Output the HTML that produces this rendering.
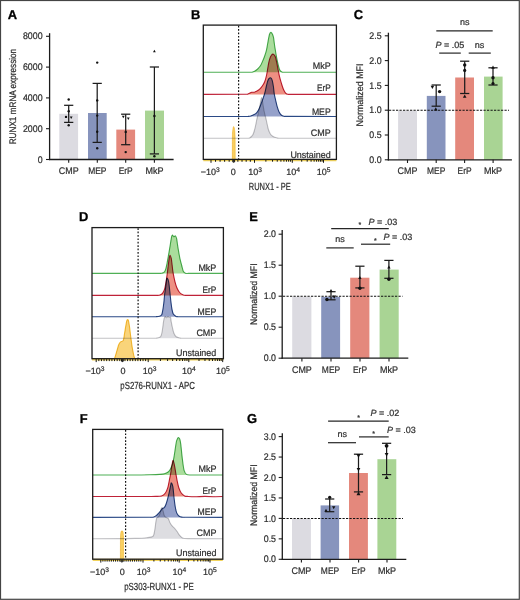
<!DOCTYPE html><html><head><meta charset="utf-8"><style>html,body{margin:0;padding:0;background:#fff}svg{display:block}text{font-family:"Liberation Sans", sans-serif;text-rendering:geometricPrecision;stroke:#2e2e2e;stroke-width:0.22px}text.b{stroke:#000;stroke-width:0.3px}</style></head><body>
<svg width="520" height="600" viewBox="0 0 520 600">
<rect x="0" y="0" width="520" height="600" fill="#fff"/>
<text class="b" x="7.7" y="18.8" font-size="12.9" text-anchor="start" fill="#000" font-weight="bold">A</text>
<rect x="59.3" y="113.8" width="18.8" height="45.7" fill="#dcdbe1"/>
<rect x="88" y="113" width="18.7" height="46.5" fill="#8794bd"/>
<rect x="116.3" y="129.6" width="18.8" height="29.9" fill="#e4887c"/>
<rect x="145" y="110.6" width="19" height="48.9" fill="#a9d494"/>
<line x1="49.6" y1="33.2" x2="49.6" y2="160.1" stroke="#1c1c1c" stroke-width="1.3"/>
<line x1="49" y1="159.5" x2="173.6" y2="159.5" stroke="#1c1c1c" stroke-width="1.3"/>
<line x1="46" y1="159.5" x2="49.6" y2="159.5" stroke="#1c1c1c" stroke-width="1.1"/>
<text x="42.6" y="162.65" font-size="9.6" text-anchor="end" fill="#2e2e2e" font-weight="normal" textLength="4.91" lengthAdjust="spacingAndGlyphs">0</text>
<line x1="46" y1="128.7" x2="49.6" y2="128.7" stroke="#1c1c1c" stroke-width="1.1"/>
<text x="42.6" y="131.85" font-size="9.6" text-anchor="end" fill="#2e2e2e" font-weight="normal" textLength="19.65" lengthAdjust="spacingAndGlyphs">2000</text>
<line x1="46" y1="97.9" x2="49.6" y2="97.9" stroke="#1c1c1c" stroke-width="1.1"/>
<text x="42.6" y="101.05" font-size="9.6" text-anchor="end" fill="#2e2e2e" font-weight="normal" textLength="19.65" lengthAdjust="spacingAndGlyphs">4000</text>
<line x1="46" y1="67.1" x2="49.6" y2="67.1" stroke="#1c1c1c" stroke-width="1.1"/>
<text x="42.6" y="70.25" font-size="9.6" text-anchor="end" fill="#2e2e2e" font-weight="normal" textLength="19.65" lengthAdjust="spacingAndGlyphs">6000</text>
<line x1="46" y1="36.3" x2="49.6" y2="36.3" stroke="#1c1c1c" stroke-width="1.1"/>
<text x="42.6" y="39.45" font-size="9.6" text-anchor="end" fill="#2e2e2e" font-weight="normal" textLength="19.65" lengthAdjust="spacingAndGlyphs">8000</text>
<line x1="68.7" y1="159.5" x2="68.7" y2="162.7" stroke="#1c1c1c" stroke-width="1.1"/>
<line x1="97.3" y1="159.5" x2="97.3" y2="162.7" stroke="#1c1c1c" stroke-width="1.1"/>
<line x1="125.7" y1="159.5" x2="125.7" y2="162.7" stroke="#1c1c1c" stroke-width="1.1"/>
<line x1="154.4" y1="159.5" x2="154.4" y2="162.7" stroke="#1c1c1c" stroke-width="1.1"/>
<text x="68.7" y="174.2" font-size="9.6" text-anchor="middle" fill="#2e2e2e" font-weight="normal" textLength="19.8" lengthAdjust="spacingAndGlyphs">CMP</text>
<text x="97.3" y="174.2" font-size="9.6" text-anchor="middle" fill="#2e2e2e" font-weight="normal" textLength="18.3" lengthAdjust="spacingAndGlyphs">MEP</text>
<text x="125.7" y="174.2" font-size="9.6" text-anchor="middle" fill="#2e2e2e" font-weight="normal" textLength="14" lengthAdjust="spacingAndGlyphs">ErP</text>
<text x="154.4" y="174.2" font-size="9.6" text-anchor="middle" fill="#2e2e2e" font-weight="normal" textLength="18" lengthAdjust="spacingAndGlyphs">MkP</text>
<text transform="translate(16.2,96.6) rotate(-90)" x="0" y="0" font-size="9.6" text-anchor="middle" fill="#2e2e2e" textLength="95.5" lengthAdjust="spacingAndGlyphs">RUNX1 mRNA expression</text>
<line x1="68.7" y1="105.3" x2="68.7" y2="122.4" stroke="#1c1c1c" stroke-width="1.25"/>
<line x1="64.1" y1="105.3" x2="73.3" y2="105.3" stroke="#1c1c1c" stroke-width="1.25"/>
<line x1="64.1" y1="122.4" x2="73.3" y2="122.4" stroke="#1c1c1c" stroke-width="1.25"/>
<line x1="97.2" y1="83.4" x2="97.2" y2="142.4" stroke="#1c1c1c" stroke-width="1.25"/>
<line x1="92.6" y1="83.4" x2="101.8" y2="83.4" stroke="#1c1c1c" stroke-width="1.25"/>
<line x1="92.6" y1="142.4" x2="101.8" y2="142.4" stroke="#1c1c1c" stroke-width="1.25"/>
<line x1="125.7" y1="114.2" x2="125.7" y2="144.7" stroke="#1c1c1c" stroke-width="1.25"/>
<line x1="121.1" y1="114.2" x2="130.3" y2="114.2" stroke="#1c1c1c" stroke-width="1.25"/>
<line x1="121.1" y1="144.7" x2="130.3" y2="144.7" stroke="#1c1c1c" stroke-width="1.25"/>
<line x1="154.4" y1="67" x2="154.4" y2="153.9" stroke="#1c1c1c" stroke-width="1.25"/>
<line x1="149.8" y1="67" x2="159" y2="67" stroke="#1c1c1c" stroke-width="1.25"/>
<line x1="149.8" y1="153.9" x2="159" y2="153.9" stroke="#1c1c1c" stroke-width="1.25"/>
<circle cx="68.7" cy="99.5" r="1.2" fill="#111"/>
<circle cx="66" cy="116.9" r="1.2" fill="#111"/>
<circle cx="68.7" cy="125.3" r="1.2" fill="#111"/>
<circle cx="68.7" cy="111.3" r="1.2" fill="#111"/>
<polygon points="71.2,119 69.8,116.48 72.6,116.48" fill="#111"/>
<circle cx="97.2" cy="62.6" r="1.2" fill="#111"/>
<circle cx="97.2" cy="100.4" r="1.2" fill="#111"/>
<circle cx="97.2" cy="115.6" r="1.2" fill="#111"/>
<circle cx="97.2" cy="131.8" r="1.2" fill="#111"/>
<circle cx="97.2" cy="148.3" r="1.2" fill="#111"/>
<polygon points="123.3,118.3 121.9,115.78 124.7,115.78" fill="#111"/>
<polygon points="128.3,120 126.9,117.48 129.7,117.48" fill="#111"/>
<circle cx="125.7" cy="131.9" r="1.2" fill="#111"/>
<circle cx="125.7" cy="152.1" r="1.2" fill="#111"/>
<polygon points="154.4,49.8 153,52.32 155.8,52.32" fill="#111"/>
<circle cx="154.4" cy="116" r="1.2" fill="#111"/>
<circle cx="154.4" cy="156.3" r="1.2" fill="#111"/>
<text class="b" x="353.7" y="18.5" font-size="12.9" text-anchor="start" fill="#000" font-weight="bold">C</text>
<rect x="398.1" y="110.6" width="18.9" height="49.2" fill="#dcdbe1"/>
<rect x="426.8" y="95.9" width="18.7" height="63.9" fill="#8794bd"/>
<rect x="455.2" y="77.5" width="18.8" height="82.3" fill="#e4887c"/>
<rect x="484" y="76.6" width="18.6" height="83.2" fill="#a9d494"/>
<line x1="388.4" y1="32.7" x2="388.4" y2="160.4" stroke="#1c1c1c" stroke-width="1.3"/>
<line x1="387.8" y1="159.8" x2="511.9" y2="159.8" stroke="#1c1c1c" stroke-width="1.3"/>
<line x1="384.8" y1="159.8" x2="388.4" y2="159.8" stroke="#1c1c1c" stroke-width="1.1"/>
<text x="381.6" y="162.95" font-size="9.6" text-anchor="end" fill="#2e2e2e" font-weight="normal" textLength="12.28" lengthAdjust="spacingAndGlyphs">0.0</text>
<line x1="384.8" y1="135" x2="388.4" y2="135" stroke="#1c1c1c" stroke-width="1.1"/>
<text x="381.6" y="138.15" font-size="9.6" text-anchor="end" fill="#2e2e2e" font-weight="normal" textLength="12.28" lengthAdjust="spacingAndGlyphs">0.5</text>
<line x1="384.8" y1="110.2" x2="388.4" y2="110.2" stroke="#1c1c1c" stroke-width="1.1"/>
<text x="381.6" y="113.35" font-size="9.6" text-anchor="end" fill="#2e2e2e" font-weight="normal" textLength="12.28" lengthAdjust="spacingAndGlyphs">1.0</text>
<line x1="384.8" y1="85.4" x2="388.4" y2="85.4" stroke="#1c1c1c" stroke-width="1.1"/>
<text x="381.6" y="88.55" font-size="9.6" text-anchor="end" fill="#2e2e2e" font-weight="normal" textLength="12.28" lengthAdjust="spacingAndGlyphs">1.5</text>
<line x1="384.8" y1="60.6" x2="388.4" y2="60.6" stroke="#1c1c1c" stroke-width="1.1"/>
<text x="381.6" y="63.75" font-size="9.6" text-anchor="end" fill="#2e2e2e" font-weight="normal" textLength="12.28" lengthAdjust="spacingAndGlyphs">2.0</text>
<line x1="384.8" y1="35.8" x2="388.4" y2="35.8" stroke="#1c1c1c" stroke-width="1.1"/>
<text x="381.6" y="38.95" font-size="9.6" text-anchor="end" fill="#2e2e2e" font-weight="normal" textLength="12.28" lengthAdjust="spacingAndGlyphs">2.5</text>
<line x1="407.5" y1="159.8" x2="407.5" y2="163" stroke="#1c1c1c" stroke-width="1.1"/>
<line x1="436.2" y1="159.8" x2="436.2" y2="163" stroke="#1c1c1c" stroke-width="1.1"/>
<line x1="464.6" y1="159.8" x2="464.6" y2="163" stroke="#1c1c1c" stroke-width="1.1"/>
<line x1="493.1" y1="159.8" x2="493.1" y2="163" stroke="#1c1c1c" stroke-width="1.1"/>
<text x="407.5" y="174" font-size="9.6" text-anchor="middle" fill="#2e2e2e" font-weight="normal" textLength="19.8" lengthAdjust="spacingAndGlyphs">CMP</text>
<text x="436.2" y="174" font-size="9.6" text-anchor="middle" fill="#2e2e2e" font-weight="normal" textLength="18.3" lengthAdjust="spacingAndGlyphs">MEP</text>
<text x="464.6" y="174" font-size="9.6" text-anchor="middle" fill="#2e2e2e" font-weight="normal" textLength="14" lengthAdjust="spacingAndGlyphs">ErP</text>
<text x="493.1" y="174" font-size="9.6" text-anchor="middle" fill="#2e2e2e" font-weight="normal" textLength="18" lengthAdjust="spacingAndGlyphs">MkP</text>
<text transform="translate(363,95) rotate(-90)" x="0" y="0" font-size="9.6" text-anchor="middle" fill="#2e2e2e" textLength="63" lengthAdjust="spacingAndGlyphs">Normalized MFI</text>
<line x1="389" y1="110.2" x2="509" y2="110.2" stroke="#111" stroke-width="1.05" stroke-dasharray="2.2 1.3"/>
<line x1="436.2" y1="85" x2="436.2" y2="106.2" stroke="#1c1c1c" stroke-width="1.25"/>
<line x1="431.6" y1="85" x2="440.8" y2="85" stroke="#1c1c1c" stroke-width="1.25"/>
<line x1="431.6" y1="106.2" x2="440.8" y2="106.2" stroke="#1c1c1c" stroke-width="1.25"/>
<line x1="464.7" y1="61.2" x2="464.7" y2="93.5" stroke="#1c1c1c" stroke-width="1.25"/>
<line x1="460.1" y1="61.2" x2="469.3" y2="61.2" stroke="#1c1c1c" stroke-width="1.25"/>
<line x1="460.1" y1="93.5" x2="469.3" y2="93.5" stroke="#1c1c1c" stroke-width="1.25"/>
<line x1="493" y1="67.8" x2="493" y2="85" stroke="#1c1c1c" stroke-width="1.25"/>
<line x1="488.4" y1="67.8" x2="497.6" y2="67.8" stroke="#1c1c1c" stroke-width="1.25"/>
<line x1="488.4" y1="85" x2="497.6" y2="85" stroke="#1c1c1c" stroke-width="1.25"/>
<polygon points="432.4,89.1 430.6,85.86 434.2,85.86" fill="#111"/>
<circle cx="439.6" cy="91.6" r="1.7" fill="#111"/>
<polygon points="435.8,107.2 434,110.44 437.6,110.44" fill="#111"/>
<circle cx="464.7" cy="65" r="1.7" fill="#111"/>
<circle cx="464.7" cy="70.4" r="1.6" fill="#111"/>
<polygon points="464.7,94.4 462.9,97.64 466.5,97.64" fill="#111"/>
<polygon points="493,65.6 491.2,68.84 494.8,68.84" fill="#111"/>
<circle cx="493" cy="77.8" r="1.7" fill="#111"/>
<circle cx="493" cy="83.5" r="1.6" fill="#111"/>
<line x1="436.3" y1="30.8" x2="492.7" y2="30.8" stroke="#262626" stroke-width="1.2"/>
<text x="464.7" y="25.4" font-size="9" text-anchor="middle" fill="#333" font-weight="normal">ns</text>
<line x1="439.2" y1="53.1" x2="460.8" y2="53.1" stroke="#262626" stroke-width="1.2"/>
<line x1="468.7" y1="53.1" x2="490.8" y2="53.1" stroke="#262626" stroke-width="1.2"/>
<text x="435.4" y="47.6" font-size="9" fill="#333"><tspan font-style="italic">P</tspan> = .05</text>
<text x="479.5" y="47.6" font-size="9" text-anchor="middle" fill="#333" font-weight="normal">ns</text>
<text class="b" x="249.3" y="220.6" font-size="12.9" text-anchor="start" fill="#000" font-weight="bold">E</text>
<rect x="292.2" y="296.6" width="19.2" height="61.6" fill="#dcdbe1"/>
<rect x="321.2" y="296.8" width="18.9" height="61.4" fill="#8794bd"/>
<rect x="350.2" y="277.7" width="19.2" height="80.5" fill="#e4887c"/>
<rect x="379.6" y="269.6" width="19.1" height="88.6" fill="#a9d494"/>
<line x1="282.2" y1="230.1" x2="282.2" y2="358.8" stroke="#1c1c1c" stroke-width="1.3"/>
<line x1="281.6" y1="358.2" x2="408.3" y2="358.2" stroke="#1c1c1c" stroke-width="1.3"/>
<line x1="278.6" y1="358.2" x2="282.2" y2="358.2" stroke="#1c1c1c" stroke-width="1.1"/>
<text x="276" y="361.35" font-size="9.6" text-anchor="end" fill="#2e2e2e" font-weight="normal" textLength="12.28" lengthAdjust="spacingAndGlyphs">0.0</text>
<line x1="278.6" y1="327.2" x2="282.2" y2="327.2" stroke="#1c1c1c" stroke-width="1.1"/>
<text x="276" y="330.35" font-size="9.6" text-anchor="end" fill="#2e2e2e" font-weight="normal" textLength="12.28" lengthAdjust="spacingAndGlyphs">0.5</text>
<line x1="278.6" y1="296.2" x2="282.2" y2="296.2" stroke="#1c1c1c" stroke-width="1.1"/>
<text x="276" y="299.35" font-size="9.6" text-anchor="end" fill="#2e2e2e" font-weight="normal" textLength="12.28" lengthAdjust="spacingAndGlyphs">1.0</text>
<line x1="278.6" y1="265.2" x2="282.2" y2="265.2" stroke="#1c1c1c" stroke-width="1.1"/>
<text x="276" y="268.35" font-size="9.6" text-anchor="end" fill="#2e2e2e" font-weight="normal" textLength="12.28" lengthAdjust="spacingAndGlyphs">1.5</text>
<line x1="278.6" y1="234.2" x2="282.2" y2="234.2" stroke="#1c1c1c" stroke-width="1.1"/>
<text x="276" y="237.35" font-size="9.6" text-anchor="end" fill="#2e2e2e" font-weight="normal" textLength="12.28" lengthAdjust="spacingAndGlyphs">2.0</text>
<line x1="301.9" y1="358.2" x2="301.9" y2="361.4" stroke="#1c1c1c" stroke-width="1.1"/>
<line x1="331" y1="358.2" x2="331" y2="361.4" stroke="#1c1c1c" stroke-width="1.1"/>
<line x1="360" y1="358.2" x2="360" y2="361.4" stroke="#1c1c1c" stroke-width="1.1"/>
<line x1="389" y1="358.2" x2="389" y2="361.4" stroke="#1c1c1c" stroke-width="1.1"/>
<text x="301.9" y="373" font-size="9.6" text-anchor="middle" fill="#2e2e2e" font-weight="normal" textLength="19.8" lengthAdjust="spacingAndGlyphs">CMP</text>
<text x="331" y="373" font-size="9.6" text-anchor="middle" fill="#2e2e2e" font-weight="normal" textLength="18.3" lengthAdjust="spacingAndGlyphs">MEP</text>
<text x="360" y="373" font-size="9.6" text-anchor="middle" fill="#2e2e2e" font-weight="normal" textLength="14" lengthAdjust="spacingAndGlyphs">ErP</text>
<text x="389" y="373" font-size="9.6" text-anchor="middle" fill="#2e2e2e" font-weight="normal" textLength="18" lengthAdjust="spacingAndGlyphs">MkP</text>
<text transform="translate(257,294.2) rotate(-90)" x="0" y="0" font-size="9.6" text-anchor="middle" fill="#2e2e2e" textLength="61.5" lengthAdjust="spacingAndGlyphs">Normalized MFI</text>
<line x1="283" y1="296.2" x2="402.5" y2="296.2" stroke="#111" stroke-width="1.05" stroke-dasharray="2.2 1.3"/>
<line x1="331" y1="291.7" x2="331" y2="299.8" stroke="#1c1c1c" stroke-width="1.25"/>
<line x1="326.4" y1="291.7" x2="335.6" y2="291.7" stroke="#1c1c1c" stroke-width="1.25"/>
<line x1="326.4" y1="299.8" x2="335.6" y2="299.8" stroke="#1c1c1c" stroke-width="1.25"/>
<line x1="359.9" y1="266.2" x2="359.9" y2="287.9" stroke="#1c1c1c" stroke-width="1.25"/>
<line x1="355.3" y1="266.2" x2="364.5" y2="266.2" stroke="#1c1c1c" stroke-width="1.25"/>
<line x1="355.3" y1="287.9" x2="364.5" y2="287.9" stroke="#1c1c1c" stroke-width="1.25"/>
<line x1="388.9" y1="260.4" x2="388.9" y2="278.3" stroke="#1c1c1c" stroke-width="1.25"/>
<line x1="384.3" y1="260.4" x2="393.5" y2="260.4" stroke="#1c1c1c" stroke-width="1.25"/>
<line x1="384.3" y1="278.3" x2="393.5" y2="278.3" stroke="#1c1c1c" stroke-width="1.25"/>
<circle cx="326.9" cy="299.5" r="1.7" fill="#111"/>
<polygon points="331,288.9 329.3,291.96 332.7,291.96" fill="#111"/>
<polygon points="334.2,298.7 332.4,295.46 336,295.46" fill="#111"/>
<polygon points="359.9,275.9 358.2,278.96 361.6,278.96" fill="#111"/>
<circle cx="359.9" cy="288.3" r="1.7" fill="#111"/>
<polygon points="388.9,265.5 387.2,268.56 390.6,268.56" fill="#111"/>
<circle cx="388.9" cy="279.2" r="1.7" fill="#111"/>
<line x1="331.2" y1="228.7" x2="388.8" y2="228.7" stroke="#262626" stroke-width="1.2"/>
<line x1="326.3" y1="247.9" x2="353.7" y2="247.9" stroke="#262626" stroke-width="1.2"/>
<line x1="361" y1="244.2" x2="390.2" y2="244.2" stroke="#262626" stroke-width="1.2"/>
<text x="359.8" y="226.8" font-size="7" text-anchor="middle" fill="#333" font-weight="normal">*</text>
<text x="368.5" y="225" font-size="9" fill="#333"><tspan font-style="italic">P</tspan> = .03</text>
<text x="339.9" y="241.7" font-size="9" text-anchor="middle" fill="#333" font-weight="normal">ns</text>
<text x="375.4" y="242.8" font-size="7" text-anchor="middle" fill="#333" font-weight="normal">*</text>
<text x="383.5" y="240" font-size="9" fill="#333"><tspan font-style="italic">P</tspan> = .03</text>
<text class="b" x="247" y="422.9" font-size="12.9" text-anchor="start" fill="#000" font-weight="bold">G</text>
<rect x="292" y="518.8" width="18.9" height="40.5" fill="#dcdbe1"/>
<rect x="320.6" y="505.4" width="18.5" height="53.9" fill="#8794bd"/>
<rect x="349" y="473" width="18.9" height="86.3" fill="#e4887c"/>
<rect x="377.4" y="459.2" width="18.9" height="100.1" fill="#a9d494"/>
<line x1="282.3" y1="433.3" x2="282.3" y2="559.9" stroke="#1c1c1c" stroke-width="1.3"/>
<line x1="281.7" y1="559.3" x2="406.3" y2="559.3" stroke="#1c1c1c" stroke-width="1.3"/>
<line x1="278.7" y1="559.3" x2="282.3" y2="559.3" stroke="#1c1c1c" stroke-width="1.1"/>
<text x="276" y="562.45" font-size="9.6" text-anchor="end" fill="#2e2e2e" font-weight="normal" textLength="12.28" lengthAdjust="spacingAndGlyphs">0.0</text>
<line x1="278.7" y1="538.85" x2="282.3" y2="538.85" stroke="#1c1c1c" stroke-width="1.1"/>
<text x="276" y="542" font-size="9.6" text-anchor="end" fill="#2e2e2e" font-weight="normal" textLength="12.28" lengthAdjust="spacingAndGlyphs">0.5</text>
<line x1="278.7" y1="518.4" x2="282.3" y2="518.4" stroke="#1c1c1c" stroke-width="1.1"/>
<text x="276" y="521.55" font-size="9.6" text-anchor="end" fill="#2e2e2e" font-weight="normal" textLength="12.28" lengthAdjust="spacingAndGlyphs">1.0</text>
<line x1="278.7" y1="497.95" x2="282.3" y2="497.95" stroke="#1c1c1c" stroke-width="1.1"/>
<text x="276" y="501.1" font-size="9.6" text-anchor="end" fill="#2e2e2e" font-weight="normal" textLength="12.28" lengthAdjust="spacingAndGlyphs">1.5</text>
<line x1="278.7" y1="477.5" x2="282.3" y2="477.5" stroke="#1c1c1c" stroke-width="1.1"/>
<text x="276" y="480.65" font-size="9.6" text-anchor="end" fill="#2e2e2e" font-weight="normal" textLength="12.28" lengthAdjust="spacingAndGlyphs">2.0</text>
<line x1="278.7" y1="457.05" x2="282.3" y2="457.05" stroke="#1c1c1c" stroke-width="1.1"/>
<text x="276" y="460.2" font-size="9.6" text-anchor="end" fill="#2e2e2e" font-weight="normal" textLength="12.28" lengthAdjust="spacingAndGlyphs">2.5</text>
<line x1="278.7" y1="436.6" x2="282.3" y2="436.6" stroke="#1c1c1c" stroke-width="1.1"/>
<text x="276" y="439.75" font-size="9.6" text-anchor="end" fill="#2e2e2e" font-weight="normal" textLength="12.28" lengthAdjust="spacingAndGlyphs">3.0</text>
<line x1="301.4" y1="559.3" x2="301.4" y2="562.5" stroke="#1c1c1c" stroke-width="1.1"/>
<line x1="330" y1="559.3" x2="330" y2="562.5" stroke="#1c1c1c" stroke-width="1.1"/>
<line x1="358.6" y1="559.3" x2="358.6" y2="562.5" stroke="#1c1c1c" stroke-width="1.1"/>
<line x1="387" y1="559.3" x2="387" y2="562.5" stroke="#1c1c1c" stroke-width="1.1"/>
<text x="301.4" y="574.1" font-size="9.6" text-anchor="middle" fill="#2e2e2e" font-weight="normal" textLength="19.8" lengthAdjust="spacingAndGlyphs">CMP</text>
<text x="330" y="574.1" font-size="9.6" text-anchor="middle" fill="#2e2e2e" font-weight="normal" textLength="18.3" lengthAdjust="spacingAndGlyphs">MEP</text>
<text x="358.6" y="574.1" font-size="9.6" text-anchor="middle" fill="#2e2e2e" font-weight="normal" textLength="14" lengthAdjust="spacingAndGlyphs">ErP</text>
<text x="387" y="574.1" font-size="9.6" text-anchor="middle" fill="#2e2e2e" font-weight="normal" textLength="18" lengthAdjust="spacingAndGlyphs">MkP</text>
<text transform="translate(257.2,495.2) rotate(-90)" x="0" y="0" font-size="9.6" text-anchor="middle" fill="#2e2e2e" textLength="61.5" lengthAdjust="spacingAndGlyphs">Normalized MFI</text>
<line x1="283" y1="518.5" x2="403" y2="518.5" stroke="#111" stroke-width="1.05" stroke-dasharray="2.2 1.3"/>
<line x1="329.7" y1="499" x2="329.7" y2="511.7" stroke="#1c1c1c" stroke-width="1.25"/>
<line x1="325.1" y1="499" x2="334.3" y2="499" stroke="#1c1c1c" stroke-width="1.25"/>
<line x1="325.1" y1="511.7" x2="334.3" y2="511.7" stroke="#1c1c1c" stroke-width="1.25"/>
<line x1="358.5" y1="454.2" x2="358.5" y2="491.9" stroke="#1c1c1c" stroke-width="1.25"/>
<line x1="353.9" y1="454.2" x2="363.1" y2="454.2" stroke="#1c1c1c" stroke-width="1.25"/>
<line x1="353.9" y1="491.9" x2="363.1" y2="491.9" stroke="#1c1c1c" stroke-width="1.25"/>
<line x1="386.6" y1="443.3" x2="386.6" y2="474.6" stroke="#1c1c1c" stroke-width="1.25"/>
<line x1="382" y1="443.3" x2="391.2" y2="443.3" stroke="#1c1c1c" stroke-width="1.25"/>
<line x1="382" y1="474.6" x2="391.2" y2="474.6" stroke="#1c1c1c" stroke-width="1.25"/>
<circle cx="329.7" cy="497.3" r="1.6" fill="#111"/>
<polygon points="326,508.8 324.3,511.86 327.7,511.86" fill="#111"/>
<polygon points="333.7,509.3 332,506.24 335.4,506.24" fill="#111"/>
<polygon points="358.5,457.7 356.4,453.92 360.6,453.92" fill="#111"/>
<polygon points="358.5,471.3 356.6,467.88 360.4,467.88" fill="#111"/>
<polygon points="358.5,491.6 356.5,495.2 360.5,495.2" fill="#111"/>
<circle cx="386.6" cy="445.8" r="1.9" fill="#111"/>
<polygon points="386.6,456.5 384.7,453.08 388.5,453.08" fill="#111"/>
<polygon points="386.6,475.3 384.6,478.9 388.6,478.9" fill="#111"/>
<line x1="328.1" y1="421.2" x2="388.7" y2="421.2" stroke="#262626" stroke-width="1.2"/>
<line x1="328" y1="442.7" x2="356" y2="442.7" stroke="#262626" stroke-width="1.2"/>
<line x1="359" y1="436.9" x2="388.7" y2="436.9" stroke="#262626" stroke-width="1.2"/>
<text x="358.5" y="420" font-size="7" text-anchor="middle" fill="#333" font-weight="normal">*</text>
<text x="370.4" y="416" font-size="9" fill="#333"><tspan font-style="italic">P</tspan> = .02</text>
<text x="342.2" y="437.1" font-size="9" text-anchor="middle" fill="#333" font-weight="normal">ns</text>
<text x="373.5" y="435.8" font-size="7" text-anchor="middle" fill="#333" font-weight="normal">*</text>
<text x="387" y="432.7" font-size="9" fill="#333"><tspan font-style="italic">P</tspan> = .03</text>
<text class="b" x="191.1" y="18.7" font-size="12.9" text-anchor="start" fill="#000" font-weight="bold">B</text>
<path d="M248,138.2 L248,138.2 C248.27,138.17 249.02,138.28 249.6,138 C250.18,137.72 250.93,137.08 251.5,136.5 C252.07,135.92 252.52,135.5 253,134.5 C253.48,133.5 253.97,132 254.4,130.5 C254.83,129 255.23,127.17 255.6,125.5 C255.97,123.83 256.28,122 256.6,120.5 C256.92,119 257.13,118.08 257.5,116.5 C257.87,114.92 258.37,113 258.8,111 C259.23,109 259.73,106.42 260.1,104.5 C260.47,102.58 260.75,100.65 261,99.5 C261.25,98.35 261.4,97.6 261.6,97.6 C261.8,97.6 261.97,98.35 262.2,99.5 C262.43,100.65 262.7,102.67 263,104.5 C263.3,106.33 263.67,108.75 264,110.5 C264.33,112.25 264.7,113.75 265,115 C265.3,116.25 265.5,116.75 265.8,118 C266.1,119.25 266.37,120.58 266.8,122.5 C267.23,124.42 267.78,127.55 268.4,129.5 C269.02,131.45 269.78,133.08 270.5,134.2 C271.22,135.32 271.87,135.63 272.7,136.2 C273.53,136.77 274.53,137.27 275.5,137.6 C276.47,137.93 278,138.1 278.5,138.2 L278.5,138.2 Z" fill="#dddde1" style="mix-blend-mode:multiply"/>
<path d="M203.3,138.2 L248,138.2 C248.27,138.17 249.02,138.28 249.6,138 C250.18,137.72 250.93,137.08 251.5,136.5 C252.07,135.92 252.52,135.5 253,134.5 C253.48,133.5 253.97,132 254.4,130.5 C254.83,129 255.23,127.17 255.6,125.5 C255.97,123.83 256.28,122 256.6,120.5 C256.92,119 257.13,118.08 257.5,116.5 C257.87,114.92 258.37,113 258.8,111 C259.23,109 259.73,106.42 260.1,104.5 C260.47,102.58 260.75,100.65 261,99.5 C261.25,98.35 261.4,97.6 261.6,97.6 C261.8,97.6 261.97,98.35 262.2,99.5 C262.43,100.65 262.7,102.67 263,104.5 C263.3,106.33 263.67,108.75 264,110.5 C264.33,112.25 264.7,113.75 265,115 C265.3,116.25 265.5,116.75 265.8,118 C266.1,119.25 266.37,120.58 266.8,122.5 C267.23,124.42 267.78,127.55 268.4,129.5 C269.02,131.45 269.78,133.08 270.5,134.2 C271.22,135.32 271.87,135.63 272.7,136.2 C273.53,136.77 274.53,137.27 275.5,137.6 C276.47,137.93 278,138.1 278.5,138.2 L336.4,138.2" fill="none" stroke="#c2c2c5" stroke-width="1.1" stroke-linejoin="round" style="mix-blend-mode:multiply"/>
<path d="M248,116.5 L248,116.4 C248.47,116.33 249.77,116.3 250.8,116 C251.83,115.7 253.2,115.17 254.2,114.6 C255.2,114.03 256,113.53 256.8,112.6 C257.6,111.67 258.3,110.43 259,109 C259.7,107.57 260.33,105.75 261,104 C261.67,102.25 262.37,100.33 263,98.5 C263.63,96.67 264.23,95.08 264.8,93 C265.37,90.92 265.88,88.08 266.4,86 C266.92,83.92 267.4,81.82 267.9,80.5 C268.4,79.18 268.92,78.53 269.4,78.1 C269.88,77.67 270.33,77.53 270.8,77.9 C271.27,78.27 271.77,78.87 272.2,80.3 C272.63,81.73 273.05,84.18 273.4,86.5 C273.75,88.82 273.93,91.95 274.3,94.2 C274.67,96.45 275.12,97.92 275.6,100 C276.08,102.08 276.62,104.7 277.2,106.7 C277.78,108.7 278.38,110.58 279.1,112 C279.82,113.42 280.6,114.47 281.5,115.2 C282.4,115.93 284,116.2 284.5,116.4 L284.5,116.5 Z" fill="#95a1ca" style="mix-blend-mode:multiply"/>
<path d="M203.3,116.5 L248,116.4 C248.47,116.33 249.77,116.3 250.8,116 C251.83,115.7 253.2,115.17 254.2,114.6 C255.2,114.03 256,113.53 256.8,112.6 C257.6,111.67 258.3,110.43 259,109 C259.7,107.57 260.33,105.75 261,104 C261.67,102.25 262.37,100.33 263,98.5 C263.63,96.67 264.23,95.08 264.8,93 C265.37,90.92 265.88,88.08 266.4,86 C266.92,83.92 267.4,81.82 267.9,80.5 C268.4,79.18 268.92,78.53 269.4,78.1 C269.88,77.67 270.33,77.53 270.8,77.9 C271.27,78.27 271.77,78.87 272.2,80.3 C272.63,81.73 273.05,84.18 273.4,86.5 C273.75,88.82 273.93,91.95 274.3,94.2 C274.67,96.45 275.12,97.92 275.6,100 C276.08,102.08 276.62,104.7 277.2,106.7 C277.78,108.7 278.38,110.58 279.1,112 C279.82,113.42 280.6,114.47 281.5,115.2 C282.4,115.93 284,116.2 284.5,116.4 L336.4,116.5" fill="none" stroke="#2b4a86" stroke-width="1.1" stroke-linejoin="round" style="mix-blend-mode:multiply"/>
<path d="M247,94.4 L247,94.3 C247.33,94.18 248.22,93.93 249,93.6 C249.78,93.27 250.85,92.53 251.7,92.3 C252.55,92.07 253.3,92.37 254.1,92.2 C254.9,92.03 255.62,91.77 256.5,91.3 C257.38,90.83 258.43,90.28 259.4,89.4 C260.37,88.52 261.42,87.28 262.3,86 C263.18,84.72 263.98,83.53 264.7,81.7 C265.42,79.87 266.03,77.57 266.6,75 C267.17,72.43 267.62,68.87 268.1,66.3 C268.58,63.73 268.95,61.43 269.5,59.6 C270.05,57.77 270.75,56.2 271.4,55.3 C272.05,54.4 272.75,53.97 273.4,54.2 C274.05,54.43 274.75,55.32 275.3,56.7 C275.85,58.08 276.22,60.25 276.7,62.5 C277.18,64.75 277.72,67.8 278.2,70.2 C278.68,72.6 279.05,74.65 279.6,76.9 C280.15,79.15 280.85,81.62 281.5,83.7 C282.15,85.78 282.77,87.8 283.5,89.4 C284.23,91 285.07,92.47 285.9,93.3 C286.73,94.13 288.07,94.22 288.5,94.4 L288.5,94.4 Z" fill="#ee8f82" style="mix-blend-mode:multiply"/>
<path d="M203.3,94.4 L247,94.3 C247.33,94.18 248.22,93.93 249,93.6 C249.78,93.27 250.85,92.53 251.7,92.3 C252.55,92.07 253.3,92.37 254.1,92.2 C254.9,92.03 255.62,91.77 256.5,91.3 C257.38,90.83 258.43,90.28 259.4,89.4 C260.37,88.52 261.42,87.28 262.3,86 C263.18,84.72 263.98,83.53 264.7,81.7 C265.42,79.87 266.03,77.57 266.6,75 C267.17,72.43 267.62,68.87 268.1,66.3 C268.58,63.73 268.95,61.43 269.5,59.6 C270.05,57.77 270.75,56.2 271.4,55.3 C272.05,54.4 272.75,53.97 273.4,54.2 C274.05,54.43 274.75,55.32 275.3,56.7 C275.85,58.08 276.22,60.25 276.7,62.5 C277.18,64.75 277.72,67.8 278.2,70.2 C278.68,72.6 279.05,74.65 279.6,76.9 C280.15,79.15 280.85,81.62 281.5,83.7 C282.15,85.78 282.77,87.8 283.5,89.4 C284.23,91 285.07,92.47 285.9,93.3 C286.73,94.13 288.07,94.22 288.5,94.4 L336.4,94.4" fill="none" stroke="#bf2238" stroke-width="1.1" stroke-linejoin="round" style="mix-blend-mode:multiply"/>
<path d="M252,72.2 L252,72.2 C252.5,72 254,71.6 255,71 C256,70.4 257.1,69.47 258,68.6 C258.9,67.73 259.67,66.97 260.4,65.8 C261.13,64.63 261.73,63.1 262.4,61.6 C263.07,60.1 263.73,58.67 264.4,56.8 C265.07,54.93 265.87,52.53 266.4,50.4 C266.93,48.27 267.23,46 267.6,44 C267.97,42 268.27,40.07 268.6,38.4 C268.93,36.73 269.2,35 269.6,34 C270,33 270.5,32.33 271,32.4 C271.5,32.47 272.17,33.5 272.6,34.4 C273.03,35.3 273.3,36.2 273.6,37.8 C273.9,39.4 274.1,41.9 274.4,44 C274.7,46.1 275,48 275.4,50.4 C275.8,52.8 276.3,55.87 276.8,58.4 C277.3,60.93 277.87,63.6 278.4,65.6 C278.93,67.6 279.32,69.3 280,70.4 C280.68,71.5 282.08,71.9 282.5,72.2 L282.5,72.2 Z" fill="#aadd9c" style="mix-blend-mode:multiply"/>
<path d="M203.3,72.2 L252,72.2 C252.5,72 254,71.6 255,71 C256,70.4 257.1,69.47 258,68.6 C258.9,67.73 259.67,66.97 260.4,65.8 C261.13,64.63 261.73,63.1 262.4,61.6 C263.07,60.1 263.73,58.67 264.4,56.8 C265.07,54.93 265.87,52.53 266.4,50.4 C266.93,48.27 267.23,46 267.6,44 C267.97,42 268.27,40.07 268.6,38.4 C268.93,36.73 269.2,35 269.6,34 C270,33 270.5,32.33 271,32.4 C271.5,32.47 272.17,33.5 272.6,34.4 C273.03,35.3 273.3,36.2 273.6,37.8 C273.9,39.4 274.1,41.9 274.4,44 C274.7,46.1 275,48 275.4,50.4 C275.8,52.8 276.3,55.87 276.8,58.4 C277.3,60.93 277.87,63.6 278.4,65.6 C278.93,67.6 279.32,69.3 280,70.4 C280.68,71.5 282.08,71.9 282.5,72.2 L336.4,72.2" fill="none" stroke="#4fb056" stroke-width="1.1" stroke-linejoin="round" style="mix-blend-mode:multiply"/>
<path d="M232.3,159.5 L232.3,159.4 C232.32,155.5 232.3,141.07 232.4,136 C232.5,130.93 232.68,130.58 232.9,129 C233.12,127.42 233.43,126.5 233.7,126.5 C233.97,126.5 234.27,127.42 234.5,129 C234.73,130.58 234.97,130.93 235.1,136 C235.23,141.07 235.27,155.5 235.3,159.4 L235.3,159.5 Z" fill="#f8d060" style="mix-blend-mode:multiply"/>
<path d="M203.3,159.5 L232.3,159.4 C232.32,155.5 232.3,141.07 232.4,136 C232.5,130.93 232.68,130.58 232.9,129 C233.12,127.42 233.43,126.5 233.7,126.5 C233.97,126.5 234.27,127.42 234.5,129 C234.73,130.58 234.97,130.93 235.1,136 C235.23,141.07 235.27,155.5 235.3,159.4 L336.4,159.5" fill="none" stroke="#f5c545" stroke-width="0.6" stroke-linejoin="round" style="mix-blend-mode:multiply"/>
<line x1="203.3" y1="160.5" x2="336.4" y2="160.5" stroke="#f2d45e" stroke-width="1.5"/>
<line x1="211" y1="159.8" x2="211" y2="162.8" stroke="#151515" stroke-width="1"/>
<line x1="233.7" y1="159.8" x2="233.7" y2="162.8" stroke="#151515" stroke-width="1"/>
<line x1="254.5" y1="159.8" x2="254.5" y2="162.8" stroke="#151515" stroke-width="1"/>
<line x1="292.3" y1="159.8" x2="292.3" y2="162.8" stroke="#151515" stroke-width="1"/>
<line x1="323.5" y1="159.8" x2="323.5" y2="162.8" stroke="#151515" stroke-width="1"/>
<line x1="229.16" y1="159.8" x2="229.16" y2="161.8" stroke="#151515" stroke-width="1"/>
<line x1="237.86" y1="159.8" x2="237.86" y2="161.8" stroke="#151515" stroke-width="1"/>
<line x1="224.62" y1="159.8" x2="224.62" y2="161.8" stroke="#151515" stroke-width="1"/>
<line x1="242.02" y1="159.8" x2="242.02" y2="161.8" stroke="#151515" stroke-width="1"/>
<line x1="220.08" y1="159.8" x2="220.08" y2="161.8" stroke="#151515" stroke-width="1"/>
<line x1="246.18" y1="159.8" x2="246.18" y2="161.8" stroke="#151515" stroke-width="1"/>
<line x1="215.54" y1="159.8" x2="215.54" y2="161.8" stroke="#151515" stroke-width="1"/>
<line x1="250.34" y1="159.8" x2="250.34" y2="161.8" stroke="#151515" stroke-width="1"/>
<line x1="265.88" y1="159.8" x2="265.88" y2="161.7" stroke="#151515" stroke-width="1"/>
<line x1="301.69" y1="159.8" x2="301.69" y2="161.7" stroke="#151515" stroke-width="1"/>
<line x1="272.54" y1="159.8" x2="272.54" y2="161.7" stroke="#151515" stroke-width="1"/>
<line x1="307.19" y1="159.8" x2="307.19" y2="161.7" stroke="#151515" stroke-width="1"/>
<line x1="277.26" y1="159.8" x2="277.26" y2="161.7" stroke="#151515" stroke-width="1"/>
<line x1="311.08" y1="159.8" x2="311.08" y2="161.7" stroke="#151515" stroke-width="1"/>
<line x1="280.92" y1="159.8" x2="280.92" y2="161.7" stroke="#151515" stroke-width="1"/>
<line x1="314.11" y1="159.8" x2="314.11" y2="161.7" stroke="#151515" stroke-width="1"/>
<line x1="283.91" y1="159.8" x2="283.91" y2="161.7" stroke="#151515" stroke-width="1"/>
<line x1="316.58" y1="159.8" x2="316.58" y2="161.7" stroke="#151515" stroke-width="1"/>
<line x1="286.44" y1="159.8" x2="286.44" y2="161.7" stroke="#151515" stroke-width="1"/>
<line x1="318.67" y1="159.8" x2="318.67" y2="161.7" stroke="#151515" stroke-width="1"/>
<line x1="288.64" y1="159.8" x2="288.64" y2="161.7" stroke="#151515" stroke-width="1"/>
<line x1="320.48" y1="159.8" x2="320.48" y2="161.7" stroke="#151515" stroke-width="1"/>
<line x1="290.57" y1="159.8" x2="290.57" y2="161.7" stroke="#151515" stroke-width="1"/>
<line x1="322.07" y1="159.8" x2="322.07" y2="161.7" stroke="#151515" stroke-width="1"/>
<line x1="232.8" y1="159.8" x2="232.8" y2="162.2" stroke="#151515" stroke-width="1"/>
<line x1="234.6" y1="159.8" x2="234.6" y2="162.2" stroke="#151515" stroke-width="1"/>
<rect x="203.3" y="25.1" width="133.1" height="134.3" fill="none" stroke="#1c1c1c" stroke-width="1.3"/>
<line x1="238.6" y1="25.7" x2="238.6" y2="159.4" stroke="#111" stroke-width="1.2" stroke-dasharray="1.7 1.7"/>
<text x="330.7" y="69.1" font-size="9.4" text-anchor="end" fill="#2e2e2e" font-weight="normal" textLength="17.9" lengthAdjust="spacingAndGlyphs">MkP</text>
<text x="330.7" y="91.1" font-size="9.4" text-anchor="end" fill="#2e2e2e" font-weight="normal" textLength="13.8" lengthAdjust="spacingAndGlyphs">ErP</text>
<text x="330.7" y="114.5" font-size="9.4" text-anchor="end" fill="#2e2e2e" font-weight="normal" textLength="18.8" lengthAdjust="spacingAndGlyphs">MEP</text>
<text x="330.7" y="136.2" font-size="9.4" text-anchor="end" fill="#2e2e2e" font-weight="normal" textLength="19.9" lengthAdjust="spacingAndGlyphs">CMP</text>
<text x="330.7" y="158" font-size="9.4" text-anchor="end" fill="#2e2e2e" font-weight="normal" textLength="40.3" lengthAdjust="spacingAndGlyphs">Unstained</text>
<text x="200.8" y="174.8" font-size="9" fill="#333">&#8722;10<tspan font-size="6.7" dy="-3.1">3</tspan></text>
<text x="230.8" y="174.8" font-size="9" fill="#333">0</text>
<text x="248.2" y="174.8" font-size="9" fill="#333">10<tspan font-size="6.7" dy="-3.1">3</tspan></text>
<text x="286.2" y="174.8" font-size="9" fill="#333">10<tspan font-size="6.7" dy="-3.1">4</tspan></text>
<text x="316.8" y="174.8" font-size="9" fill="#333">10<tspan font-size="6.7" dy="-3.1">5</tspan></text>
<text x="248.8" y="190" font-size="10.2" text-anchor="start" fill="#2e2e2e" font-weight="normal" textLength="42" lengthAdjust="spacingAndGlyphs">RUNX1 - PE</text>
<text class="b" x="78.9" y="220.7" font-size="12.9" text-anchor="start" fill="#000" font-weight="bold">D</text>
<path d="M156,338.3 L156,338.2 C156.55,338.1 158.45,338.02 159.3,337.6 C160.15,337.18 160.61,336.8 161.1,335.7 C161.59,334.6 161.9,332.95 162.25,331 C162.6,329.05 162.88,326.13 163.2,324 C163.52,321.87 163.82,319.43 164.2,318.2 C164.58,316.97 165.12,316.67 165.5,316.6 C165.88,316.53 166.08,317.8 166.5,317.8 C166.92,317.8 167.5,316.65 168,316.6 C168.5,316.55 169.07,317.4 169.5,317.5 C169.93,317.6 170.32,316.5 170.6,317.2 C170.88,317.9 170.9,319.98 171.2,321.7 C171.5,323.42 171.95,325.57 172.4,327.5 C172.85,329.43 173.26,331.75 173.9,333.3 C174.54,334.85 175.18,336 176.25,336.8 C177.32,337.6 179.34,337.87 180.3,338.1 C181.26,338.33 181.72,338.18 182,338.2 L182,338.3 Z" fill="#dddde1" style="mix-blend-mode:multiply"/>
<path d="M92,338.3 L156,338.2 C156.55,338.1 158.45,338.02 159.3,337.6 C160.15,337.18 160.61,336.8 161.1,335.7 C161.59,334.6 161.9,332.95 162.25,331 C162.6,329.05 162.88,326.13 163.2,324 C163.52,321.87 163.82,319.43 164.2,318.2 C164.58,316.97 165.12,316.67 165.5,316.6 C165.88,316.53 166.08,317.8 166.5,317.8 C166.92,317.8 167.5,316.65 168,316.6 C168.5,316.55 169.07,317.4 169.5,317.5 C169.93,317.6 170.32,316.5 170.6,317.2 C170.88,317.9 170.9,319.98 171.2,321.7 C171.5,323.42 171.95,325.57 172.4,327.5 C172.85,329.43 173.26,331.75 173.9,333.3 C174.54,334.85 175.18,336 176.25,336.8 C177.32,337.6 179.34,337.87 180.3,338.1 C181.26,338.33 181.72,338.18 182,338.2 L223.4,338.3" fill="none" stroke="#c2c2c5" stroke-width="1.1" stroke-linejoin="round" style="mix-blend-mode:multiply"/>
<path d="M156,316.7 L156,316.6 C156.55,316.55 158.35,316.62 159.3,316.3 C160.25,315.98 161.12,315.75 161.7,314.7 C162.28,313.65 162.45,311.95 162.8,310 C163.15,308.05 163.5,305.53 163.8,303 C164.1,300.47 164.28,297.52 164.6,294.8 C164.92,292.08 165.42,289.22 165.75,286.7 C166.08,284.18 166.36,281.12 166.6,279.7 C166.84,278.28 166.85,277.82 167.2,278.2 C167.55,278.58 168.27,279.82 168.7,282 C169.13,284.18 169.45,288.18 169.8,291.3 C170.15,294.42 170.45,297.78 170.8,300.7 C171.15,303.62 171.48,306.57 171.9,308.8 C172.32,311.03 172.58,312.82 173.3,314.1 C174.03,315.38 175.47,316.08 176.25,316.5 C177.03,316.92 177.71,316.58 178,316.6 L178,316.7 Z" fill="#95a1ca" style="mix-blend-mode:multiply"/>
<path d="M92,316.7 L156,316.6 C156.55,316.55 158.35,316.62 159.3,316.3 C160.25,315.98 161.12,315.75 161.7,314.7 C162.28,313.65 162.45,311.95 162.8,310 C163.15,308.05 163.5,305.53 163.8,303 C164.1,300.47 164.28,297.52 164.6,294.8 C164.92,292.08 165.42,289.22 165.75,286.7 C166.08,284.18 166.36,281.12 166.6,279.7 C166.84,278.28 166.85,277.82 167.2,278.2 C167.55,278.58 168.27,279.82 168.7,282 C169.13,284.18 169.45,288.18 169.8,291.3 C170.15,294.42 170.45,297.78 170.8,300.7 C171.15,303.62 171.48,306.57 171.9,308.8 C172.32,311.03 172.58,312.82 173.3,314.1 C174.03,315.38 175.47,316.08 176.25,316.5 C177.03,316.92 177.71,316.58 178,316.6 L223.4,316.7" fill="none" stroke="#2b4a86" stroke-width="1.1" stroke-linejoin="round" style="mix-blend-mode:multiply"/>
<path d="M157,295.4 L157,295.4 C157.5,295.33 159.08,295.35 160,295 C160.92,294.65 161.73,294.27 162.5,293.3 C163.27,292.33 164.05,290.87 164.6,289.2 C165.15,287.53 165.45,285.25 165.8,283.3 C166.15,281.35 166.42,279.43 166.7,277.5 C166.98,275.57 167.23,273.78 167.5,271.7 C167.77,269.62 168.02,267.23 168.3,265 C168.58,262.77 168.92,259.93 169.2,258.3 C169.48,256.67 169.66,255.2 170,255.2 C170.34,255.2 170.9,256.67 171.25,258.3 C171.6,259.93 171.82,262.77 172.1,265 C172.38,267.23 172.55,269.48 172.9,271.7 C173.25,273.92 173.78,276.37 174.2,278.3 C174.62,280.23 174.92,281.63 175.4,283.3 C175.88,284.97 176.4,286.77 177.1,288.3 C177.8,289.83 178.57,291.38 179.6,292.5 C180.63,293.62 182.23,294.52 183.3,295 C184.37,295.48 185.55,295.33 186,295.4 L186,295.4 Z" fill="#ee8f82" style="mix-blend-mode:multiply"/>
<path d="M92,295.4 L157,295.4 C157.5,295.33 159.08,295.35 160,295 C160.92,294.65 161.73,294.27 162.5,293.3 C163.27,292.33 164.05,290.87 164.6,289.2 C165.15,287.53 165.45,285.25 165.8,283.3 C166.15,281.35 166.42,279.43 166.7,277.5 C166.98,275.57 167.23,273.78 167.5,271.7 C167.77,269.62 168.02,267.23 168.3,265 C168.58,262.77 168.92,259.93 169.2,258.3 C169.48,256.67 169.66,255.2 170,255.2 C170.34,255.2 170.9,256.67 171.25,258.3 C171.6,259.93 171.82,262.77 172.1,265 C172.38,267.23 172.55,269.48 172.9,271.7 C173.25,273.92 173.78,276.37 174.2,278.3 C174.62,280.23 174.92,281.63 175.4,283.3 C175.88,284.97 176.4,286.77 177.1,288.3 C177.8,289.83 178.57,291.38 179.6,292.5 C180.63,293.62 182.23,294.52 183.3,295 C184.37,295.48 185.55,295.33 186,295.4 L223.4,295.4" fill="none" stroke="#bf2238" stroke-width="1.1" stroke-linejoin="round" style="mix-blend-mode:multiply"/>
<path d="M158,273.4 L158,273.4 C158.62,273.37 160.67,273.4 161.7,273.2 C162.73,273 163.52,272.93 164.2,272.2 C164.88,271.47 165.32,270.33 165.8,268.8 C166.28,267.27 166.68,265.08 167.1,263 C167.52,260.92 167.88,258.67 168.3,256.3 C168.72,253.93 169.18,251.3 169.6,248.8 C170.02,246.3 170.45,243.38 170.8,241.3 C171.15,239.22 171.42,237.33 171.7,236.3 C171.98,235.27 172.16,235.03 172.5,235.1 C172.84,235.17 173.27,236.57 173.75,236.7 C174.23,236.83 174.91,235.55 175.4,235.9 C175.89,236.25 176.35,237.33 176.7,238.8 C177.05,240.27 177.16,242.47 177.5,244.7 C177.84,246.93 178.33,249.85 178.75,252.2 C179.17,254.55 179.51,256.58 180,258.8 C180.49,261.02 181.15,263.42 181.7,265.5 C182.25,267.58 182.68,270 183.3,271.3 C183.92,272.6 184.62,272.95 185.4,273.3 C186.18,273.65 187.57,273.38 188,273.4 L188,273.4 Z" fill="#aadd9c" style="mix-blend-mode:multiply"/>
<path d="M92,273.4 L158,273.4 C158.62,273.37 160.67,273.4 161.7,273.2 C162.73,273 163.52,272.93 164.2,272.2 C164.88,271.47 165.32,270.33 165.8,268.8 C166.28,267.27 166.68,265.08 167.1,263 C167.52,260.92 167.88,258.67 168.3,256.3 C168.72,253.93 169.18,251.3 169.6,248.8 C170.02,246.3 170.45,243.38 170.8,241.3 C171.15,239.22 171.42,237.33 171.7,236.3 C171.98,235.27 172.16,235.03 172.5,235.1 C172.84,235.17 173.27,236.57 173.75,236.7 C174.23,236.83 174.91,235.55 175.4,235.9 C175.89,236.25 176.35,237.33 176.7,238.8 C177.05,240.27 177.16,242.47 177.5,244.7 C177.84,246.93 178.33,249.85 178.75,252.2 C179.17,254.55 179.51,256.58 180,258.8 C180.49,261.02 181.15,263.42 181.7,265.5 C182.25,267.58 182.68,270 183.3,271.3 C183.92,272.6 184.62,272.95 185.4,273.3 C186.18,273.65 187.57,273.38 188,273.4 L223.4,273.4" fill="none" stroke="#4fb056" stroke-width="1.1" stroke-linejoin="round" style="mix-blend-mode:multiply"/>
<path d="M114.3,358.7 L114.3,358.6 C114.4,358.42 114.43,358.92 114.9,357.5 C115.37,356.08 116.45,352.27 117.1,350.1 C117.75,347.93 118.22,345.87 118.8,344.5 C119.38,343.13 119.87,342.55 120.6,341.9 C121.33,341.25 122.55,341.97 123.2,340.6 C123.85,339.23 124.07,336.15 124.5,333.7 C124.93,331.25 125.4,328.12 125.8,325.9 C126.2,323.68 126.47,321.32 126.9,320.4 C127.33,319.48 127.97,319.35 128.4,320.4 C128.83,321.45 129.12,324.05 129.5,326.7 C129.88,329.35 130.27,332.97 130.7,336.3 C131.13,339.63 131.62,343.67 132.1,346.7 C132.58,349.73 133.22,352.7 133.6,354.5 C133.98,356.3 134.17,356.82 134.4,357.5 C134.63,358.18 134.9,358.42 135,358.6 L135,358.7 Z" fill="#f9d47a" style="mix-blend-mode:multiply"/>
<path d="M92,358.7 L114.3,358.6 C114.4,358.42 114.43,358.92 114.9,357.5 C115.37,356.08 116.45,352.27 117.1,350.1 C117.75,347.93 118.22,345.87 118.8,344.5 C119.38,343.13 119.87,342.55 120.6,341.9 C121.33,341.25 122.55,341.97 123.2,340.6 C123.85,339.23 124.07,336.15 124.5,333.7 C124.93,331.25 125.4,328.12 125.8,325.9 C126.2,323.68 126.47,321.32 126.9,320.4 C127.33,319.48 127.97,319.35 128.4,320.4 C128.83,321.45 129.12,324.05 129.5,326.7 C129.88,329.35 130.27,332.97 130.7,336.3 C131.13,339.63 131.62,343.67 132.1,346.7 C132.58,349.73 133.22,352.7 133.6,354.5 C133.98,356.3 134.17,356.82 134.4,357.5 C134.63,358.18 134.9,358.42 135,358.6 L223.4,358.7" fill="none" stroke="#f3c43c" stroke-width="1.1" stroke-linejoin="round" style="mix-blend-mode:multiply"/>
<line x1="92" y1="359.8" x2="223.4" y2="359.8" stroke="#f2d45e" stroke-width="1.5"/>
<line x1="96.2" y1="359.1" x2="96.2" y2="362.1" stroke="#151515" stroke-width="1"/>
<line x1="122.4" y1="359.1" x2="122.4" y2="362.1" stroke="#151515" stroke-width="1"/>
<line x1="148.2" y1="359.1" x2="148.2" y2="362.1" stroke="#151515" stroke-width="1"/>
<line x1="188.8" y1="359.1" x2="188.8" y2="362.1" stroke="#151515" stroke-width="1"/>
<line x1="222.7" y1="359.1" x2="222.7" y2="362.1" stroke="#151515" stroke-width="1"/>
<line x1="119.78" y1="359.1" x2="119.78" y2="361.1" stroke="#151515" stroke-width="1"/>
<line x1="124.98" y1="359.1" x2="124.98" y2="361.1" stroke="#151515" stroke-width="1"/>
<line x1="117.16" y1="359.1" x2="117.16" y2="361.1" stroke="#151515" stroke-width="1"/>
<line x1="127.56" y1="359.1" x2="127.56" y2="361.1" stroke="#151515" stroke-width="1"/>
<line x1="114.54" y1="359.1" x2="114.54" y2="361.1" stroke="#151515" stroke-width="1"/>
<line x1="130.14" y1="359.1" x2="130.14" y2="361.1" stroke="#151515" stroke-width="1"/>
<line x1="111.92" y1="359.1" x2="111.92" y2="361.1" stroke="#151515" stroke-width="1"/>
<line x1="132.72" y1="359.1" x2="132.72" y2="361.1" stroke="#151515" stroke-width="1"/>
<line x1="109.3" y1="359.1" x2="109.3" y2="361.1" stroke="#151515" stroke-width="1"/>
<line x1="135.3" y1="359.1" x2="135.3" y2="361.1" stroke="#151515" stroke-width="1"/>
<line x1="106.68" y1="359.1" x2="106.68" y2="361.1" stroke="#151515" stroke-width="1"/>
<line x1="137.88" y1="359.1" x2="137.88" y2="361.1" stroke="#151515" stroke-width="1"/>
<line x1="104.06" y1="359.1" x2="104.06" y2="361.1" stroke="#151515" stroke-width="1"/>
<line x1="140.46" y1="359.1" x2="140.46" y2="361.1" stroke="#151515" stroke-width="1"/>
<line x1="101.44" y1="359.1" x2="101.44" y2="361.1" stroke="#151515" stroke-width="1"/>
<line x1="143.04" y1="359.1" x2="143.04" y2="361.1" stroke="#151515" stroke-width="1"/>
<line x1="98.82" y1="359.1" x2="98.82" y2="361.1" stroke="#151515" stroke-width="1"/>
<line x1="145.62" y1="359.1" x2="145.62" y2="361.1" stroke="#151515" stroke-width="1"/>
<line x1="160.42" y1="359.1" x2="160.42" y2="361" stroke="#151515" stroke-width="1"/>
<line x1="199" y1="359.1" x2="199" y2="361" stroke="#151515" stroke-width="1"/>
<line x1="167.57" y1="359.1" x2="167.57" y2="361" stroke="#151515" stroke-width="1"/>
<line x1="204.97" y1="359.1" x2="204.97" y2="361" stroke="#151515" stroke-width="1"/>
<line x1="172.64" y1="359.1" x2="172.64" y2="361" stroke="#151515" stroke-width="1"/>
<line x1="209.21" y1="359.1" x2="209.21" y2="361" stroke="#151515" stroke-width="1"/>
<line x1="176.58" y1="359.1" x2="176.58" y2="361" stroke="#151515" stroke-width="1"/>
<line x1="212.5" y1="359.1" x2="212.5" y2="361" stroke="#151515" stroke-width="1"/>
<line x1="179.79" y1="359.1" x2="179.79" y2="361" stroke="#151515" stroke-width="1"/>
<line x1="215.18" y1="359.1" x2="215.18" y2="361" stroke="#151515" stroke-width="1"/>
<line x1="182.51" y1="359.1" x2="182.51" y2="361" stroke="#151515" stroke-width="1"/>
<line x1="217.45" y1="359.1" x2="217.45" y2="361" stroke="#151515" stroke-width="1"/>
<line x1="184.87" y1="359.1" x2="184.87" y2="361" stroke="#151515" stroke-width="1"/>
<line x1="219.41" y1="359.1" x2="219.41" y2="361" stroke="#151515" stroke-width="1"/>
<line x1="186.94" y1="359.1" x2="186.94" y2="361" stroke="#151515" stroke-width="1"/>
<line x1="221.15" y1="359.1" x2="221.15" y2="361" stroke="#151515" stroke-width="1"/>
<line x1="121.5" y1="359.1" x2="121.5" y2="361.5" stroke="#151515" stroke-width="1"/>
<line x1="123.3" y1="359.1" x2="123.3" y2="361.5" stroke="#151515" stroke-width="1"/>
<rect x="92" y="227.6" width="131.4" height="131.1" fill="none" stroke="#1c1c1c" stroke-width="1.3"/>
<line x1="138.1" y1="228.2" x2="138.1" y2="358.7" stroke="#111" stroke-width="1.2" stroke-dasharray="1.7 1.7"/>
<text x="216.3" y="270.7" font-size="9.4" text-anchor="end" fill="#2e2e2e" font-weight="normal" textLength="17.9" lengthAdjust="spacingAndGlyphs">MkP</text>
<text x="216.3" y="292.9" font-size="9.4" text-anchor="end" fill="#2e2e2e" font-weight="normal" textLength="13.8" lengthAdjust="spacingAndGlyphs">ErP</text>
<text x="216.3" y="314.5" font-size="9.4" text-anchor="end" fill="#2e2e2e" font-weight="normal" textLength="18.8" lengthAdjust="spacingAndGlyphs">MEP</text>
<text x="216.3" y="335.9" font-size="9.4" text-anchor="end" fill="#2e2e2e" font-weight="normal" textLength="19.9" lengthAdjust="spacingAndGlyphs">CMP</text>
<text x="216.3" y="356.1" font-size="9.4" text-anchor="end" fill="#2e2e2e" font-weight="normal" textLength="40.3" lengthAdjust="spacingAndGlyphs">Unstained</text>
<text x="85.5" y="373.6" font-size="9" fill="#333">&#8722;10<tspan font-size="6.7" dy="-3.1">3</tspan></text>
<text x="120.4" y="373.6" font-size="9" fill="#333">0</text>
<text x="142.8" y="373.6" font-size="9" fill="#333">10<tspan font-size="6.7" dy="-3.1">3</tspan></text>
<text x="182" y="373.6" font-size="9" fill="#333">10<tspan font-size="6.7" dy="-3.1">4</tspan></text>
<text x="216" y="373.6" font-size="9" fill="#333">10<tspan font-size="6.7" dy="-3.1">5</tspan></text>
<text x="120.3" y="389.2" font-size="10.2" text-anchor="start" fill="#2e2e2e" font-weight="normal" textLength="74.5" lengthAdjust="spacingAndGlyphs">pS276-RUNX1 - APC</text>
<text class="b" x="79.8" y="422.8" font-size="12.9" text-anchor="start" fill="#000" font-weight="bold">F</text>
<path d="M120,538.7 L120,538.6 C122.5,538.57 130.52,538.55 135,538.4 C139.48,538.25 143.95,538.02 146.9,537.7 C149.85,537.38 151.48,537.28 152.7,536.5 C153.92,535.72 153.78,534.58 154.2,533 C154.62,531.42 154.9,529 155.2,527 C155.5,525 155.72,522.53 156,521 C156.28,519.47 156.47,518.53 156.9,517.8 C157.33,517.07 158.08,517.32 158.6,516.6 C159.12,515.88 159.57,514.8 160,513.5 C160.43,512.2 160.83,509.75 161.2,508.8 C161.57,507.85 161.88,507.43 162.2,507.8 C162.52,508.17 162.73,509.67 163.1,511 C163.47,512.33 163.85,514.7 164.4,515.8 C164.95,516.9 165.75,517.13 166.4,517.6 C167.05,518.07 167.7,517.75 168.3,518.6 C168.9,519.45 169.33,521.45 170,522.7 C170.67,523.95 171.53,525.15 172.3,526.1 C173.07,527.05 173.83,527.53 174.6,528.4 C175.37,529.27 176.13,530.23 176.9,531.3 C177.67,532.37 178.33,533.73 179.2,534.8 C180.07,535.87 181.22,537.08 182.1,537.7 C182.98,538.32 183.18,538.35 184.5,538.5 C185.82,538.65 189.08,538.58 190,538.6 L190,538.7 Z" fill="#dddde1" style="mix-blend-mode:multiply"/>
<path d="M92.7,538.7 L120,538.6 C122.5,538.57 130.52,538.55 135,538.4 C139.48,538.25 143.95,538.02 146.9,537.7 C149.85,537.38 151.48,537.28 152.7,536.5 C153.92,535.72 153.78,534.58 154.2,533 C154.62,531.42 154.9,529 155.2,527 C155.5,525 155.72,522.53 156,521 C156.28,519.47 156.47,518.53 156.9,517.8 C157.33,517.07 158.08,517.32 158.6,516.6 C159.12,515.88 159.57,514.8 160,513.5 C160.43,512.2 160.83,509.75 161.2,508.8 C161.57,507.85 161.88,507.43 162.2,507.8 C162.52,508.17 162.73,509.67 163.1,511 C163.47,512.33 163.85,514.7 164.4,515.8 C164.95,516.9 165.75,517.13 166.4,517.6 C167.05,518.07 167.7,517.75 168.3,518.6 C168.9,519.45 169.33,521.45 170,522.7 C170.67,523.95 171.53,525.15 172.3,526.1 C173.07,527.05 173.83,527.53 174.6,528.4 C175.37,529.27 176.13,530.23 176.9,531.3 C177.67,532.37 178.33,533.73 179.2,534.8 C180.07,535.87 181.22,537.08 182.1,537.7 C182.98,538.32 183.18,538.35 184.5,538.5 C185.82,538.65 189.08,538.58 190,538.6 L222.8,538.7" fill="none" stroke="#c2c2c5" stroke-width="1.1" stroke-linejoin="round" style="mix-blend-mode:multiply"/>
<path d="M150,517.4 L150,517.3 C150.63,517.25 152.68,517.35 153.8,517 C154.92,516.65 155.83,515.88 156.7,515.2 C157.57,514.52 158.32,513.67 159,512.9 C159.68,512.13 160.22,511.37 160.8,510.6 C161.38,509.83 161.93,508.78 162.5,508.3 C163.07,507.82 163.62,508.38 164.2,507.7 C164.78,507.02 165.42,505.73 166,504.2 C166.58,502.67 167.13,500.62 167.7,498.5 C168.27,496.38 168.92,493.62 169.4,491.5 C169.88,489.38 170.27,487.23 170.6,485.8 C170.93,484.37 171.02,482.72 171.4,482.9 C171.78,483.08 172.47,484.5 172.9,486.9 C173.33,489.3 173.62,494.03 174,497.3 C174.38,500.57 174.75,503.9 175.2,506.5 C175.65,509.1 176.03,511.27 176.7,512.9 C177.37,514.53 178.2,515.58 179.2,516.3 C180.2,517.02 181.73,517.03 182.7,517.2 C183.67,517.37 184.62,517.28 185,517.3 L185,517.4 Z" fill="#95a1ca" style="mix-blend-mode:multiply"/>
<path d="M92.7,517.4 L150,517.3 C150.63,517.25 152.68,517.35 153.8,517 C154.92,516.65 155.83,515.88 156.7,515.2 C157.57,514.52 158.32,513.67 159,512.9 C159.68,512.13 160.22,511.37 160.8,510.6 C161.38,509.83 161.93,508.78 162.5,508.3 C163.07,507.82 163.62,508.38 164.2,507.7 C164.78,507.02 165.42,505.73 166,504.2 C166.58,502.67 167.13,500.62 167.7,498.5 C168.27,496.38 168.92,493.62 169.4,491.5 C169.88,489.38 170.27,487.23 170.6,485.8 C170.93,484.37 171.02,482.72 171.4,482.9 C171.78,483.08 172.47,484.5 172.9,486.9 C173.33,489.3 173.62,494.03 174,497.3 C174.38,500.57 174.75,503.9 175.2,506.5 C175.65,509.1 176.03,511.27 176.7,512.9 C177.37,514.53 178.2,515.58 179.2,516.3 C180.2,517.02 181.73,517.03 182.7,517.2 C183.67,517.37 184.62,517.28 185,517.3 L222.8,517.4" fill="none" stroke="#2b4a86" stroke-width="1.1" stroke-linejoin="round" style="mix-blend-mode:multiply"/>
<path d="M150,496.5 L150,496.5 C150.97,496.48 153.88,496.5 155.8,496.4 C157.72,496.3 159.9,496.47 161.5,495.9 C163.1,495.33 164.35,494.37 165.4,493 C166.45,491.63 167.17,489.7 167.8,487.7 C168.43,485.7 168.72,483.4 169.2,481 C169.68,478.6 170.25,475.87 170.7,473.3 C171.15,470.73 171.5,467.77 171.9,465.6 C172.3,463.43 172.67,460.3 173.1,460.3 C173.53,460.3 174.05,463.43 174.5,465.6 C174.95,467.77 175.35,470.73 175.8,473.3 C176.25,475.87 176.7,478.6 177.2,481 C177.7,483.4 178.12,485.7 178.8,487.7 C179.48,489.7 180.28,491.63 181.25,493 C182.22,494.37 183.39,495.32 184.6,495.9 C185.81,496.48 186.77,496.35 188.5,496.5 C190.23,496.65 192.25,496.82 195,496.8 C197.75,496.78 201.67,496.4 205,496.4 C208.33,496.4 213.33,496.73 215,496.8 L215,496.5 Z" fill="#ee8f82" style="mix-blend-mode:multiply"/>
<path d="M92.7,496.5 L150,496.5 C150.97,496.48 153.88,496.5 155.8,496.4 C157.72,496.3 159.9,496.47 161.5,495.9 C163.1,495.33 164.35,494.37 165.4,493 C166.45,491.63 167.17,489.7 167.8,487.7 C168.43,485.7 168.72,483.4 169.2,481 C169.68,478.6 170.25,475.87 170.7,473.3 C171.15,470.73 171.5,467.77 171.9,465.6 C172.3,463.43 172.67,460.3 173.1,460.3 C173.53,460.3 174.05,463.43 174.5,465.6 C174.95,467.77 175.35,470.73 175.8,473.3 C176.25,475.87 176.7,478.6 177.2,481 C177.7,483.4 178.12,485.7 178.8,487.7 C179.48,489.7 180.28,491.63 181.25,493 C182.22,494.37 183.39,495.32 184.6,495.9 C185.81,496.48 186.77,496.35 188.5,496.5 C190.23,496.65 192.25,496.82 195,496.8 C197.75,496.78 201.67,496.4 205,496.4 C208.33,496.4 213.33,496.73 215,496.8 L222.8,496.5" fill="none" stroke="#bf2238" stroke-width="1.1" stroke-linejoin="round" style="mix-blend-mode:multiply"/>
<path d="M140,475 L140,475 C141.67,474.97 146.73,474.9 150,474.8 C153.27,474.7 157.2,474.57 159.6,474.4 C162,474.22 163.03,474.1 164.4,473.75 C165.77,473.4 166.83,473.03 167.8,472.3 C168.77,471.57 169.4,470.83 170.2,469.4 C171,467.97 171.97,465.78 172.6,463.7 C173.23,461.62 173.57,459.32 174,456.9 C174.43,454.48 174.8,451.77 175.2,449.2 C175.6,446.63 175.98,443.33 176.4,441.5 C176.82,439.67 177.32,438.83 177.7,438.2 C178.07,437.57 178.3,437.55 178.65,437.7 C179,437.85 179.44,437.98 179.8,439.1 C180.16,440.22 180.48,442.07 180.8,444.4 C181.12,446.73 181.38,450.22 181.7,453.1 C182.02,455.98 182.3,458.82 182.7,461.7 C183.1,464.58 183.47,468.28 184.1,470.4 C184.73,472.52 185.45,473.63 186.5,474.4 C187.55,475.17 189.75,474.9 190.4,475 L190.4,475 Z" fill="#aadd9c" style="mix-blend-mode:multiply"/>
<path d="M92.7,475 L140,475 C141.67,474.97 146.73,474.9 150,474.8 C153.27,474.7 157.2,474.57 159.6,474.4 C162,474.22 163.03,474.1 164.4,473.75 C165.77,473.4 166.83,473.03 167.8,472.3 C168.77,471.57 169.4,470.83 170.2,469.4 C171,467.97 171.97,465.78 172.6,463.7 C173.23,461.62 173.57,459.32 174,456.9 C174.43,454.48 174.8,451.77 175.2,449.2 C175.6,446.63 175.98,443.33 176.4,441.5 C176.82,439.67 177.32,438.83 177.7,438.2 C178.07,437.57 178.3,437.55 178.65,437.7 C179,437.85 179.44,437.98 179.8,439.1 C180.16,440.22 180.48,442.07 180.8,444.4 C181.12,446.73 181.38,450.22 181.7,453.1 C182.02,455.98 182.3,458.82 182.7,461.7 C183.1,464.58 183.47,468.28 184.1,470.4 C184.73,472.52 185.45,473.63 186.5,474.4 C187.55,475.17 189.75,474.9 190.4,475 L222.8,475" fill="none" stroke="#4fb056" stroke-width="1.1" stroke-linejoin="round" style="mix-blend-mode:multiply"/>
<path d="M120.4,559.2 L120.4,559.2 C120.42,555.5 120.4,541.53 120.5,537 C120.6,532.47 120.75,533.03 121,532 C121.25,530.97 121.67,530.8 122,530.8 C122.33,530.8 122.75,530.97 123,532 C123.25,533.03 123.38,532.47 123.5,537 C123.62,541.53 123.67,555.5 123.7,559.2 L123.7,559.2 Z" fill="#f8d060" style="mix-blend-mode:multiply"/>
<path d="M92.7,559.2 L120.4,559.2 C120.42,555.5 120.4,541.53 120.5,537 C120.6,532.47 120.75,533.03 121,532 C121.25,530.97 121.67,530.8 122,530.8 C122.33,530.8 122.75,530.97 123,532 C123.25,533.03 123.38,532.47 123.5,537 C123.62,541.53 123.67,555.5 123.7,559.2 L222.8,559.2" fill="none" stroke="#f5c545" stroke-width="0.6" stroke-linejoin="round" style="mix-blend-mode:multiply"/>
<line x1="92.7" y1="560.3" x2="222.8" y2="560.3" stroke="#f2d45e" stroke-width="1.5"/>
<line x1="100.8" y1="559.6" x2="100.8" y2="562.6" stroke="#151515" stroke-width="1"/>
<line x1="121.9" y1="559.6" x2="121.9" y2="562.6" stroke="#151515" stroke-width="1"/>
<line x1="143" y1="559.6" x2="143" y2="562.6" stroke="#151515" stroke-width="1"/>
<line x1="179.2" y1="559.6" x2="179.2" y2="562.6" stroke="#151515" stroke-width="1"/>
<line x1="210" y1="559.6" x2="210" y2="562.6" stroke="#151515" stroke-width="1"/>
<line x1="119.79" y1="559.6" x2="119.79" y2="561.6" stroke="#151515" stroke-width="1"/>
<line x1="124.01" y1="559.6" x2="124.01" y2="561.6" stroke="#151515" stroke-width="1"/>
<line x1="117.68" y1="559.6" x2="117.68" y2="561.6" stroke="#151515" stroke-width="1"/>
<line x1="126.12" y1="559.6" x2="126.12" y2="561.6" stroke="#151515" stroke-width="1"/>
<line x1="115.57" y1="559.6" x2="115.57" y2="561.6" stroke="#151515" stroke-width="1"/>
<line x1="128.23" y1="559.6" x2="128.23" y2="561.6" stroke="#151515" stroke-width="1"/>
<line x1="113.46" y1="559.6" x2="113.46" y2="561.6" stroke="#151515" stroke-width="1"/>
<line x1="130.34" y1="559.6" x2="130.34" y2="561.6" stroke="#151515" stroke-width="1"/>
<line x1="111.35" y1="559.6" x2="111.35" y2="561.6" stroke="#151515" stroke-width="1"/>
<line x1="132.45" y1="559.6" x2="132.45" y2="561.6" stroke="#151515" stroke-width="1"/>
<line x1="109.24" y1="559.6" x2="109.24" y2="561.6" stroke="#151515" stroke-width="1"/>
<line x1="134.56" y1="559.6" x2="134.56" y2="561.6" stroke="#151515" stroke-width="1"/>
<line x1="107.13" y1="559.6" x2="107.13" y2="561.6" stroke="#151515" stroke-width="1"/>
<line x1="136.67" y1="559.6" x2="136.67" y2="561.6" stroke="#151515" stroke-width="1"/>
<line x1="105.02" y1="559.6" x2="105.02" y2="561.6" stroke="#151515" stroke-width="1"/>
<line x1="138.78" y1="559.6" x2="138.78" y2="561.6" stroke="#151515" stroke-width="1"/>
<line x1="102.91" y1="559.6" x2="102.91" y2="561.6" stroke="#151515" stroke-width="1"/>
<line x1="140.89" y1="559.6" x2="140.89" y2="561.6" stroke="#151515" stroke-width="1"/>
<line x1="153.9" y1="559.6" x2="153.9" y2="561.5" stroke="#151515" stroke-width="1"/>
<line x1="188.47" y1="559.6" x2="188.47" y2="561.5" stroke="#151515" stroke-width="1"/>
<line x1="160.27" y1="559.6" x2="160.27" y2="561.5" stroke="#151515" stroke-width="1"/>
<line x1="193.9" y1="559.6" x2="193.9" y2="561.5" stroke="#151515" stroke-width="1"/>
<line x1="164.79" y1="559.6" x2="164.79" y2="561.5" stroke="#151515" stroke-width="1"/>
<line x1="197.74" y1="559.6" x2="197.74" y2="561.5" stroke="#151515" stroke-width="1"/>
<line x1="168.3" y1="559.6" x2="168.3" y2="561.5" stroke="#151515" stroke-width="1"/>
<line x1="200.73" y1="559.6" x2="200.73" y2="561.5" stroke="#151515" stroke-width="1"/>
<line x1="171.17" y1="559.6" x2="171.17" y2="561.5" stroke="#151515" stroke-width="1"/>
<line x1="203.17" y1="559.6" x2="203.17" y2="561.5" stroke="#151515" stroke-width="1"/>
<line x1="173.59" y1="559.6" x2="173.59" y2="561.5" stroke="#151515" stroke-width="1"/>
<line x1="205.23" y1="559.6" x2="205.23" y2="561.5" stroke="#151515" stroke-width="1"/>
<line x1="175.69" y1="559.6" x2="175.69" y2="561.5" stroke="#151515" stroke-width="1"/>
<line x1="207.02" y1="559.6" x2="207.02" y2="561.5" stroke="#151515" stroke-width="1"/>
<line x1="177.54" y1="559.6" x2="177.54" y2="561.5" stroke="#151515" stroke-width="1"/>
<line x1="208.59" y1="559.6" x2="208.59" y2="561.5" stroke="#151515" stroke-width="1"/>
<line x1="121" y1="559.6" x2="121" y2="562" stroke="#151515" stroke-width="1"/>
<line x1="122.8" y1="559.6" x2="122.8" y2="562" stroke="#151515" stroke-width="1"/>
<rect x="92.7" y="429.4" width="130.1" height="129.8" fill="none" stroke="#1c1c1c" stroke-width="1.3"/>
<line x1="125.6" y1="430" x2="125.6" y2="559.2" stroke="#111" stroke-width="1.2" stroke-dasharray="1.7 1.7"/>
<text x="216.4" y="471.6" font-size="9.4" text-anchor="end" fill="#2e2e2e" font-weight="normal" textLength="17.9" lengthAdjust="spacingAndGlyphs">MkP</text>
<text x="216.4" y="493.7" font-size="9.4" text-anchor="end" fill="#2e2e2e" font-weight="normal" textLength="13.8" lengthAdjust="spacingAndGlyphs">ErP</text>
<text x="216.4" y="514.7" font-size="9.4" text-anchor="end" fill="#2e2e2e" font-weight="normal" textLength="18.8" lengthAdjust="spacingAndGlyphs">MEP</text>
<text x="216.4" y="535.9" font-size="9.4" text-anchor="end" fill="#2e2e2e" font-weight="normal" textLength="19.9" lengthAdjust="spacingAndGlyphs">CMP</text>
<text x="216.4" y="556" font-size="9.4" text-anchor="end" fill="#2e2e2e" font-weight="normal" textLength="40.3" lengthAdjust="spacingAndGlyphs">Unstained</text>
<text x="90" y="574.8" font-size="9" fill="#333">&#8722;10<tspan font-size="6.7" dy="-3.1">3</tspan></text>
<text x="119.8" y="574.8" font-size="9" fill="#333">0</text>
<text x="136.7" y="574.8" font-size="9" fill="#333">10<tspan font-size="6.7" dy="-3.1">3</tspan></text>
<text x="172.4" y="574.8" font-size="9" fill="#333">10<tspan font-size="6.7" dy="-3.1">4</tspan></text>
<text x="203" y="574.8" font-size="9" fill="#333">10<tspan font-size="6.7" dy="-3.1">5</tspan></text>
<text x="124.2" y="590" font-size="10.2" text-anchor="start" fill="#2e2e2e" font-weight="normal" textLength="69.6" lengthAdjust="spacingAndGlyphs">pS303-RUNX1 - PE</text>
<rect x="0.5" y="0.5" width="518.8" height="598.8" fill="none" stroke="#444" stroke-width="1.2"/>
</svg></body></html>
